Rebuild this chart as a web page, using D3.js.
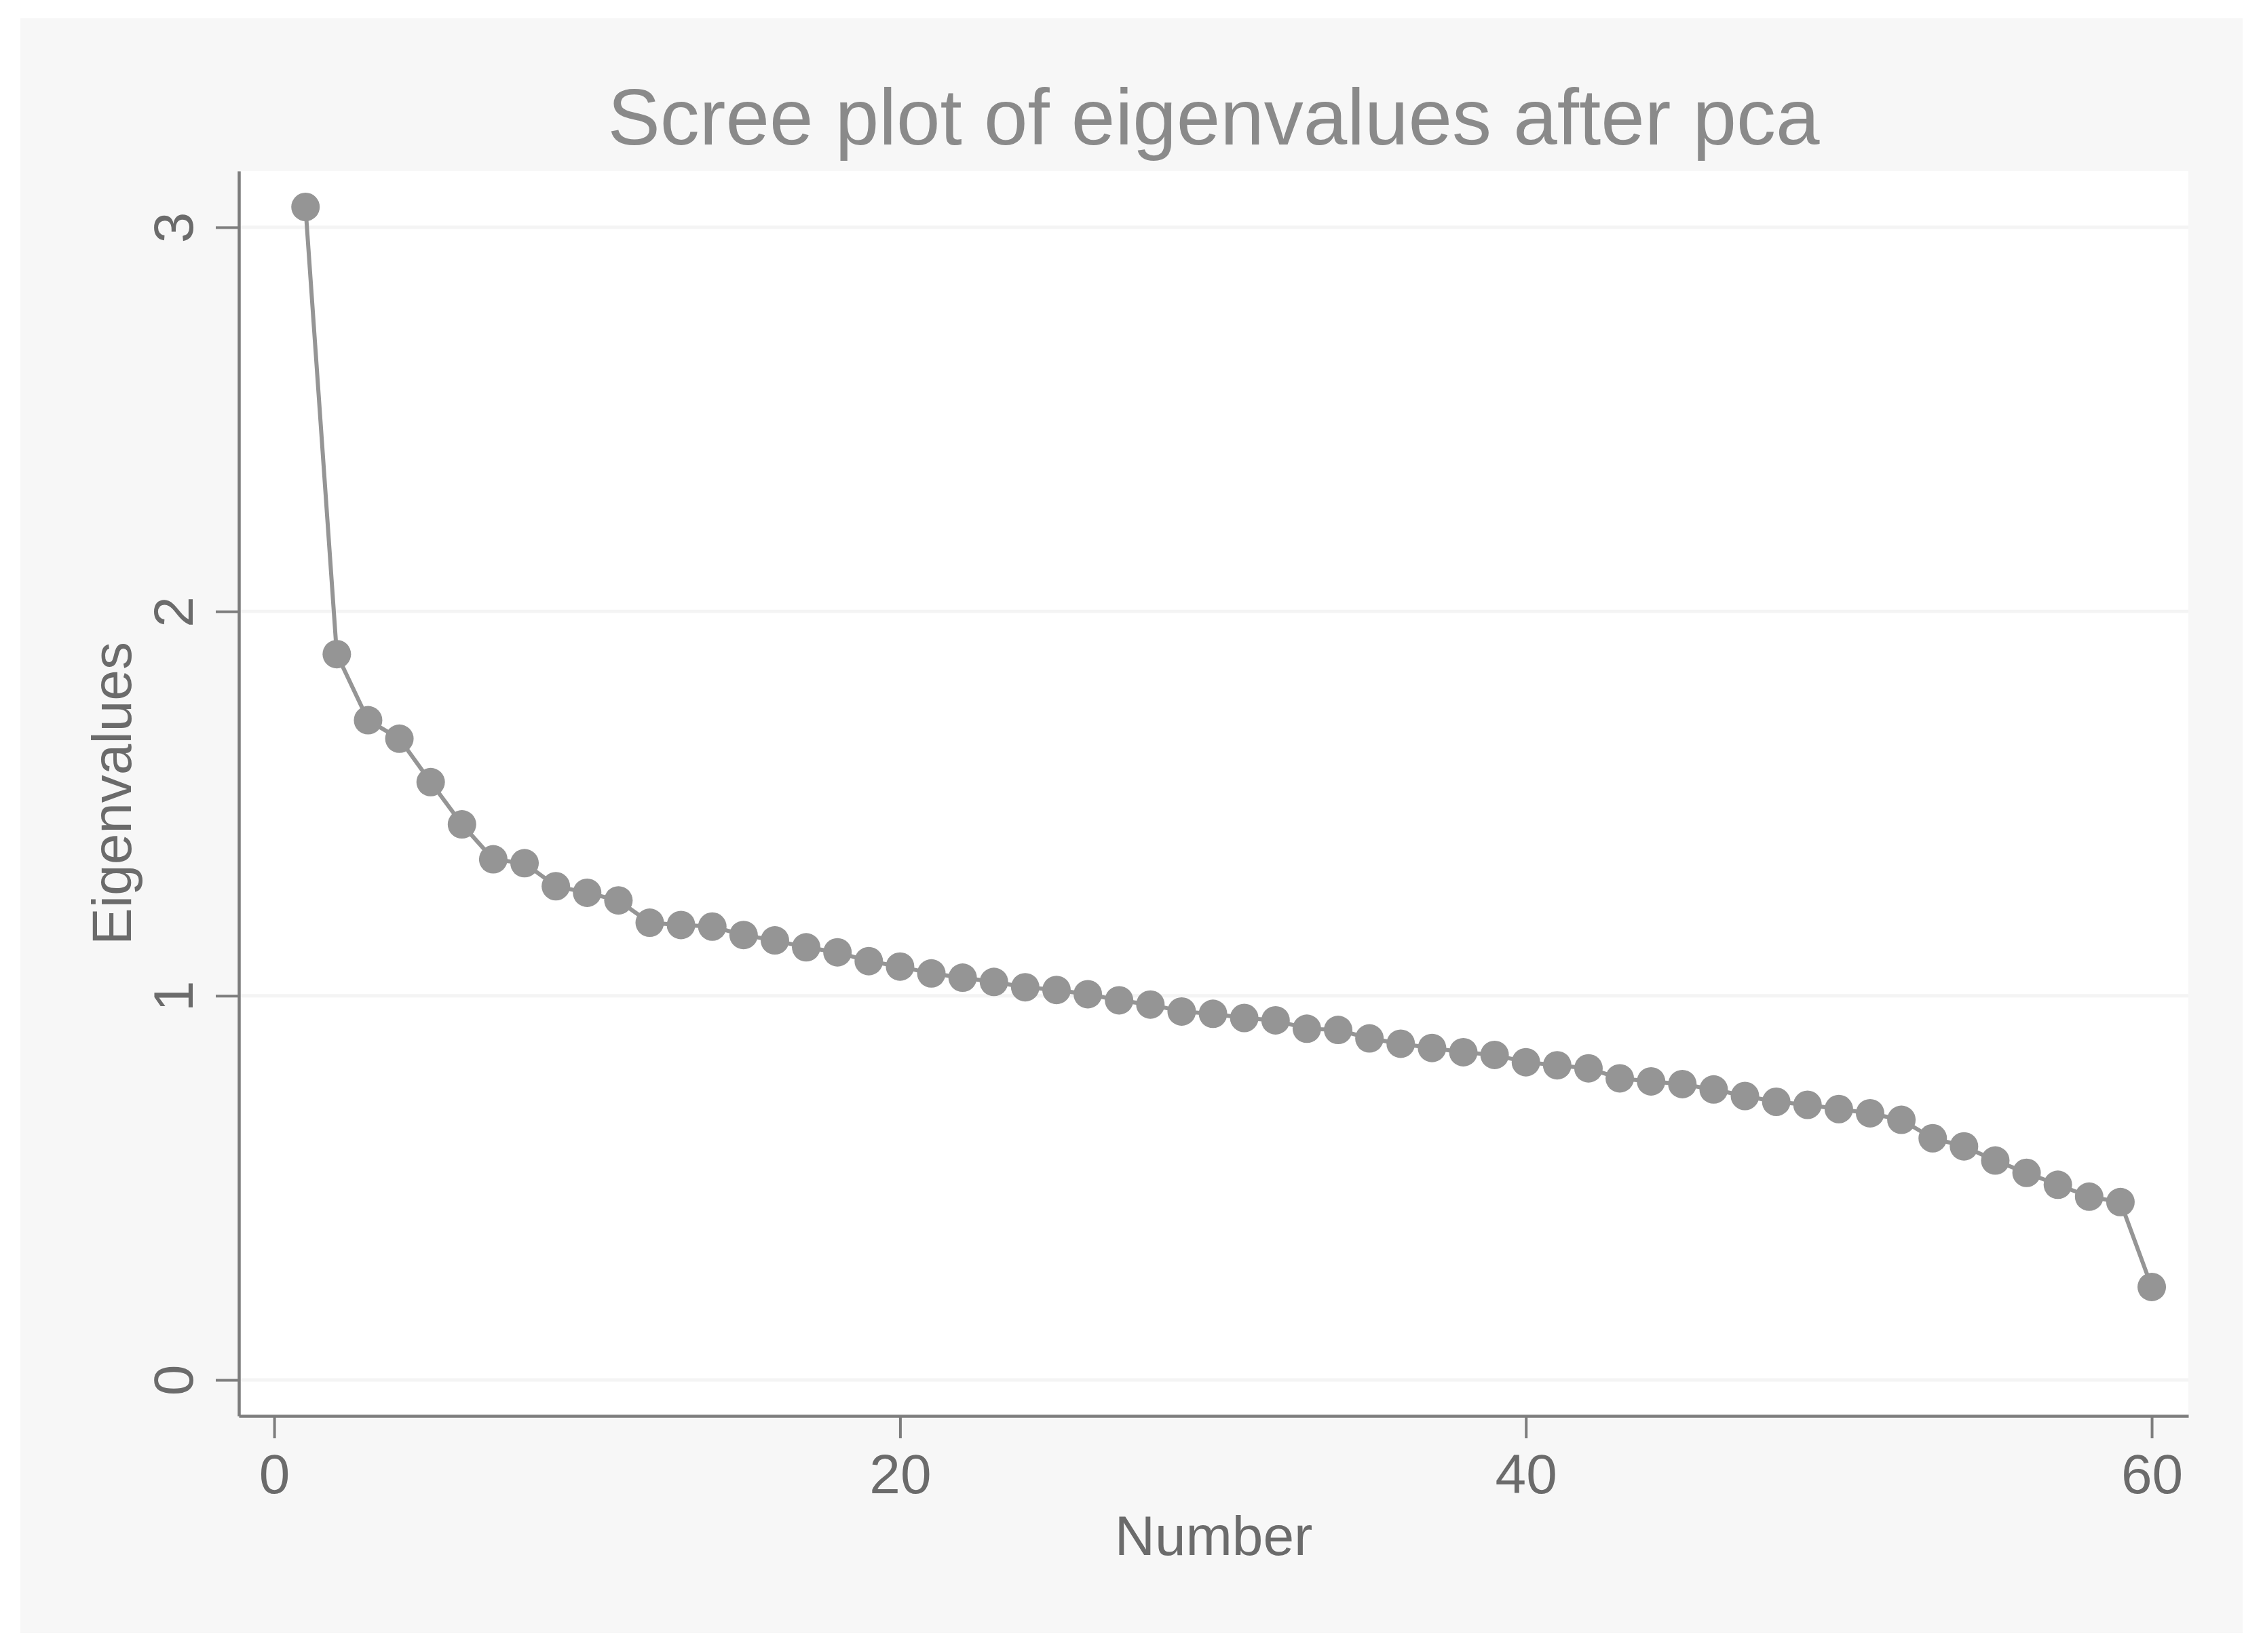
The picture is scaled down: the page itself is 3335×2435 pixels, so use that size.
<!DOCTYPE html>
<html>
<head>
<meta charset="utf-8">
<script src="https://cdn.jsdelivr.net/npm/d3@7"></script>
<style>
  body { margin: 0; background: #ffffff; }
  svg { display: block; font-family: "Liberation Sans", Arial, sans-serif; }
</style>
</head>
<body>
<svg id="scree" width="3335" height="2435"></svg>
<script>
// component numbers and their eigenvalues
const components = d3.range(1, 61);
const eigenvalues = [
    3.053, 1.889, 1.717, 1.669, 1.556, 1.446, 1.355, 1.345, 1.285, 1.268,
    1.248, 1.190, 1.184, 1.180, 1.158, 1.144, 1.126, 1.113, 1.090, 1.076,
    1.058, 1.047, 1.036, 1.022, 1.015, 1.004, 0.988, 0.977, 0.959, 0.953,
    0.942, 0.936, 0.914, 0.911, 0.889, 0.875, 0.864, 0.853, 0.846, 0.827,
    0.819, 0.811, 0.785, 0.777, 0.770, 0.756, 0.739, 0.724, 0.716, 0.705,
    0.694, 0.677, 0.629, 0.608, 0.571, 0.539, 0.508, 0.477, 0.463, 0.242
];
const xTicks = [0, 20, 40, 60];
const yTicks = [0, 1, 2, 3];

document.addEventListener('DOMContentLoaded', () => {
    const data = components.map((n, i) => ({ n: n, value: eigenvalues[i] }));

    const svg = d3.select('#scree');
    const plot = { left: 352, right: 3225, top: 252, bottom: 2087 };
    const textColor = '#6b6b6b';
    const axisColor = '#7d7d7d';
    const markColor = '#959595';

    // outer panel
    svg.append('rect')
        .attr('x', 30).attr('y', 27)
        .attr('width', 3275).attr('height', 2380)
        .attr('fill', '#f7f7f7');

    svg.append('rect')
        .attr('x', plot.left).attr('y', plot.top)
        .attr('width', plot.right - plot.left)
        .attr('height', plot.bottom - plot.top)
        .attr('fill', '#ffffff');

    const x = d3.scaleLinear()
        .domain([-1.13, 61.17])
        .range([plot.left, plot.right]);

    const y = d3.scaleLinear()
        .domain([-0.0936, 3.1466])
        .range([plot.bottom, plot.top]);

    // grid
    svg.append('g')
        .selectAll('line')
        .data(yTicks)
        .enter().append('line')
        .attr('x1', plot.left).attr('x2', plot.right)
        .attr('y1', d => y(d)).attr('y2', d => y(d))
        .attr('stroke', '#f4f4f4')
        .attr('stroke-width', 5);

    // series
    const line = d3.line()
        .x(d => x(d.n))
        .y(d => y(d.value));

    svg.append('path')
        .datum(data)
        .attr('fill', 'none')
        .attr('stroke', markColor)
        .attr('stroke-width', 6)
        .attr('d', line);

    svg.append('g')
        .selectAll('circle')
        .data(data)
        .enter().append('circle')
        .attr('cx', d => x(d.n))
        .attr('cy', d => y(d.value))
        .attr('r', 21)
        .attr('fill', markColor);

    // axes
    const xAxis = svg.append('g')
        .attr('transform', `translate(0,${plot.bottom})`)
        .call(d3.axisBottom(x).tickValues(xTicks).tickFormat(d3.format('d'))
            .tickSize(33).tickSizeOuter(0).tickPadding(23));

    const yAxis = svg.append('g')
        .attr('transform', `translate(${plot.left},0)`)
        .call(d3.axisLeft(y).tickValues(yTicks).tickFormat(d3.format('d'))
            .tickSize(34).tickSizeOuter(0));

    [xAxis, yAxis].forEach(g => {
        g.select('.domain').attr('stroke', axisColor).attr('stroke-width', 4.5);
        g.selectAll('.tick line').attr('stroke', axisColor).attr('stroke-width', 4);
        g.selectAll('.tick text')
            .attr('fill', textColor)
            .style('font-size', '82px')
            .style('font-family', '"Liberation Sans", Arial, sans-serif');
    });

    yAxis.selectAll('.tick text')
        .attr('x', 0)
        .attr('y', -68)
        .attr('dy', 0)
        .attr('text-anchor', 'middle')
        .attr('transform', 'rotate(-90)');

    // titles
    svg.append('text')
        .attr('x', (plot.left + plot.right) / 2)
        .attr('y', 213)
        .attr('text-anchor', 'middle')
        .attr('fill', '#8a8a8a')
        .style('font-size', '116px')
        .text('Scree plot of eigenvalues after pca');

    svg.append('text')
        .attr('x', (plot.left + plot.right) / 2)
        .attr('y', 2292)
        .attr('text-anchor', 'middle')
        .attr('fill', textColor)
        .style('font-size', '82px')
        .text('Number');

    svg.append('text')
        .attr('transform', `translate(193,${(plot.top + plot.bottom) / 2}) rotate(-90)`)
        .attr('text-anchor', 'middle')
        .attr('fill', textColor)
        .style('font-size', '82px')
        .text('Eigenvalues');
});
</script>
</body>
</html>
